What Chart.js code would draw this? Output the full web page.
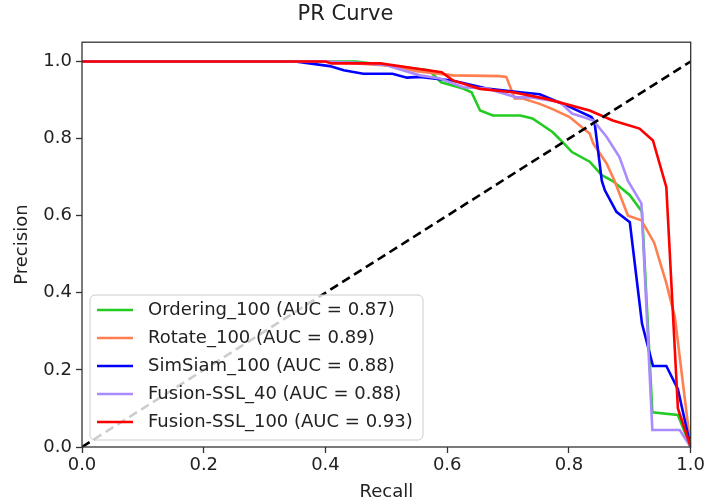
<!DOCTYPE html>
<html>
<head>
<meta charset="utf-8">
<script src="https://cdn.jsdelivr.net/npm/chart.js@4.4.1/dist/chart.umd.min.js"></script>
<style>
  html, body { margin: 0; padding: 0; background: #fff; }
  #wrap { width: 707px; height: 501px; }
</style>
</head>
<body>
<div id="wrap"><canvas id="pr_chart" width="707" height="501"></canvas></div>
<script>
// values
const orderingRecall    = [0, 0.45, 0.5, 0.57, 0.59, 0.626, 0.64, 0.654, 0.675, 0.72, 0.74, 0.773, 0.79, 0.805, 0.834, 0.854, 0.872, 0.9, 0.92, 0.937, 0.979, 1.0];
const orderingPrecision = [1, 1, 0.99, 0.977, 0.946, 0.93, 0.92, 0.873, 0.86, 0.86, 0.852, 0.817, 0.79, 0.765, 0.74, 0.705, 0.69, 0.653, 0.61, 0.09, 0.083, 0];

const rotateRecall    = [0, 0.4, 0.5, 0.55, 0.61, 0.686, 0.697, 0.711, 0.724, 0.752, 0.775, 0.801, 0.834, 0.84, 0.862, 0.875, 0.897, 0.919, 0.94, 0.96, 0.974, 1.0];
const rotatePrecision = [1, 1, 0.99, 0.975, 0.964, 0.962, 0.96, 0.904, 0.904, 0.89, 0.875, 0.856, 0.813, 0.787, 0.735, 0.69, 0.6, 0.588, 0.53, 0.425, 0.337, 0];

const simsiamRecall    = [0, 0.35, 0.407, 0.43, 0.462, 0.51, 0.534, 0.555, 0.61, 0.665, 0.72, 0.752, 0.796, 0.837, 0.842, 0.854, 0.859, 0.878, 0.9, 0.92, 0.938, 0.96, 0.979, 1.0];
const simsiamPrecision = [1, 1, 0.988, 0.977, 0.968, 0.968, 0.958, 0.96, 0.95, 0.93, 0.92, 0.915, 0.886, 0.856, 0.843, 0.69, 0.666, 0.61, 0.583, 0.32, 0.21, 0.21, 0.15, 0];

const fusion40Recall    = [0, 0.4, 0.47, 0.5, 0.555, 0.588, 0.626, 0.665, 0.714, 0.736, 0.785, 0.805, 0.823, 0.84, 0.862, 0.883, 0.897, 0.919, 0.937, 0.982, 1.0];
const fusion40Precision = [1, 1, 0.995, 0.99, 0.964, 0.956, 0.933, 0.93, 0.907, 0.907, 0.895, 0.865, 0.856, 0.847, 0.804, 0.752, 0.69, 0.632, 0.044, 0.044, 0];

const fusion100Recall    = [0, 0.40, 0.41, 0.49, 0.543, 0.591, 0.609, 0.654, 0.708, 0.763, 0.834, 0.872, 0.916, 0.938, 0.96, 0.979, 1.0];
const fusion100Precision = [1, 1, 0.995, 0.995, 0.983, 0.972, 0.951, 0.929, 0.92, 0.903, 0.873, 0.847, 0.826, 0.795, 0.674, 0.10, 0];

const chanceRecall    = [0, 1];
const chancePrecision = [0, 1];

const seriesLabels = [
	"Ordering_100 (AUC = 0.87)",
	"Rotate_100 (AUC = 0.89)",
	"SimSiam_100 (AUC = 0.88)",
	"Fusion-SSL_40 (AUC = 0.88)",
	"Fusion-SSL_100 (AUC = 0.93)"
];
const seriesColors = ["#22cc22", "#ff7f50", "#0000ff", "#a98bff", "#ff0000"];
const tickValues = [0, 0.2, 0.4, 0.6, 0.8, 1.0];

const FONT = "'DejaVu Sans', sans-serif";
const TEXT = "#222";

function toPoints(xs, ys) {
	return xs.map((x, i) => ({ x: x, y: ys[i] }));
}

const curves = [
	[orderingRecall, orderingPrecision],
	[rotateRecall, rotatePrecision],
	[simsiamRecall, simsiamPrecision],
	[fusion40Recall, fusion40Precision],
	[fusion100Recall, fusion100Precision]
];

const datasets = curves.map((c, i) => ({
	label: seriesLabels[i],
	data: toPoints(c[0], c[1]),
	borderColor: seriesColors[i],
	borderWidth: 2.6,
	pointRadius: 0,
	tension: 0,
	fill: false,
	order: 5 - i
}));
datasets.push({
	label: "chance",
	data: toPoints(chanceRecall, chancePrecision),
	borderColor: "#000",
	borderWidth: 2.6,
	borderDash: [9, 5],
	pointRadius: 0,
	fill: false,
	order: 0
});

// plot frame + matplotlib style legend inside the axes
const frameLegend = {
	id: "frameLegend",
	afterDraw(chart) {
		const { ctx, chartArea } = chart;
		ctx.save();
		ctx.strokeStyle = "#333";
		ctx.lineWidth = 1.3;
		ctx.strokeRect(chartArea.left, chartArea.top, chartArea.right - chartArea.left, chartArea.bottom - chartArea.top);

		const bx = 90, by = 295, bw = 333, bh = 145, r = 5;
		ctx.beginPath();
		ctx.roundRect(bx, by, bw, bh, r);
		ctx.fillStyle = "rgba(255,255,255,0.8)";
		ctx.fill();
		ctx.strokeStyle = "#cccccc";
		ctx.lineWidth = 1;
		ctx.stroke();

		ctx.font = "18px " + FONT;
		ctx.textBaseline = "middle";
		ctx.fillStyle = TEXT;
		for (let i = 0; i < seriesLabels.length; i++) {
			const y = 310 + i * 28;
			ctx.beginPath();
			ctx.moveTo(97, y);
			ctx.lineTo(133, y);
			ctx.strokeStyle = seriesColors[i];
			ctx.lineWidth = 2.6;
			ctx.stroke();
			ctx.fillStyle = TEXT;
			ctx.fillText(seriesLabels[i], 148, y);
		}
		ctx.restore();
	}
};

const ctx = document.getElementById("pr_chart");
// eslint-disable-next-line no-undef
new Chart(ctx, {
	type: "line",
	data: { datasets: datasets },
	options: {
		responsive: false,
		animation: false,
		layout: { padding: { left: 0, right: 16, top: 0, bottom: 0 } },
		plugins: {
			legend: { display: false },
			tooltip: { enabled: false },
			title: {
				display: true,
				text: "PR Curve",
				color: TEXT,
				font: { family: FONT, size: 21, weight: "normal", lineHeight: 1.2 },
				padding: { top: 2, bottom: 15 }
			}
		},
		scales: {
			x: {
				type: "linear",
				min: 0,
				max: 1,
				afterFit: (s) => { s.height = 54; },
				afterBuildTicks: (s) => { s.ticks = tickValues.map(v => ({ value: v })); },
				ticks: {
					color: TEXT,
					font: { family: FONT, size: 18 },
					padding: 2,
					maxRotation: 0,
					callback: (v) => v.toFixed(1)
				},
				grid: { drawOnChartArea: false, tickLength: 6, tickColor: "#333", tickWidth: 1.3 },
				border: { display: false },
				title: {
					display: true,
					text: "Recall",
					color: TEXT,
					font: { family: FONT, size: 18, lineHeight: 1 },
					padding: { top: 0, bottom: 0 }
				}
			},
			y: {
				type: "linear",
				min: 0,
				max: 1.05,
				afterFit: (s) => { s.width = 82; },
				afterBuildTicks: (s) => { s.ticks = tickValues.map(v => ({ value: v })); },
				ticks: {
					color: TEXT,
					font: { family: FONT, size: 18 },
					padding: 4,
					callback: (v) => v.toFixed(1)
				},
				grid: { drawOnChartArea: false, tickLength: 6, tickColor: "#333", tickWidth: 1.3 },
				border: { display: false },
				title: {
					display: true,
					text: "Precision",
					color: TEXT,
					font: { family: FONT, size: 18, lineHeight: 1 },
					padding: { top: 13, bottom: 0 }
				}
			}
		}
	},
	plugins: [frameLegend]
});
</script>
</body>
</html>
